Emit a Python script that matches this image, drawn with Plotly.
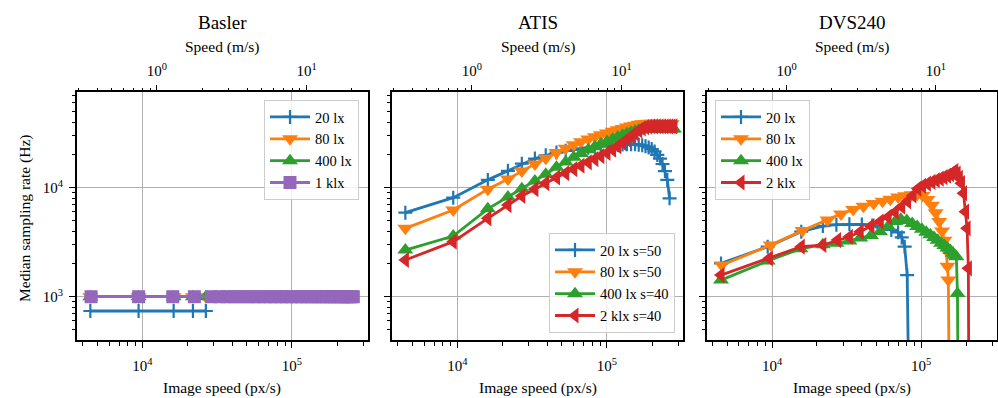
import plotly.graph_objects as go

# ---------------- Data ----------------
# Basler (image speed px/s, median sampling rate Hz)
BASLER_X_LOW = [4500, 9450, 16200, 21800, 26600]
BASLER_20LX = [740, 740, 740, 740, 740]
BASLER_80LX = [1000, 1000, 1000, 1000, 1000]
BASLER_400LX = [1000, 1000, 1000, 1000, 1000]
BASLER_X_1KLX = [4550, 9450, 16000, 22300, 29000, 33000, 37000, 41000, 45000, 50000,
                 55000, 60000, 66000, 72000, 78000, 85000, 92000, 100000, 108000, 116000,
                 125000, 134000, 143000, 152000, 162000, 172000, 182000, 192000, 202000, 212000,
                 222000, 232000, 242000, 250000, 257000]
BASLER_1KLX = [1000, 1000, 1000, 1000, 1000, 1000, 1000, 1000, 1000, 1000,
               1000, 1000, 1000, 1000, 1000, 1000, 1000, 1000, 1000, 1000,
               1000, 1000, 1000, 1000, 1000, 1000, 1000, 1000, 1000, 1000,
               1000, 1000, 1000, 1000, 1000]

# ATIS
ATIS_X = [4500, 9400, 16000, 21800, 27000, 33000, 39000, 46000, 53000, 60000,
          67000, 75000, 83000, 91000, 100000, 109000, 118000, 127000, 136000, 145000,
          154000, 163000, 172000, 181000, 190000, 199000, 208000, 217000, 226000, 235000,
          244000, 253000, 262000, 271000, 280000]
ATIS_20LX_S50 = [5900, 8100, 11800, 14300, 16600, 18500, 19800, 21000, 21800, 22400,
                 22900, 23300, 23700, 24000, 24200, 24500, 24700, 24900, 25000, 25000,
                 25000, 24800, 24500, 24000, 23400, 22600, 21500, 20000, 18500, 16500,
                 14200, 11800, 8000]
ATIS_80LX_S50 = [4240, 6240, 9700, 12000, 14200, 16500, 18600, 21000, 23000, 24800,
                 26400, 28000, 29400, 30600, 31800, 33000, 34000, 35000, 36000, 36800,
                 37500, 38200, 38600, 38800, 39000, 39000, 39000, 38900, 38900, 38800,
                 38800, 38700, 38700, 38600]
ATIS_400LX_S40 = [2680, 3600, 6400, 8200, 9800, 11500, 13300, 15400, 17200, 19000,
                  20600, 22300, 23800, 25200, 26600, 27900, 29100, 30300, 31400, 32300,
                  33100, 33800, 34300, 34500, 34600, 34500, 34600, 34500, 34600, 34500,
                  34600, 34500, 34600, 34500, 34600]
ATIS_2KLX_S40 = [2170, 3200, 5240, 6930, 8400, 9700, 11000, 12400, 13600, 14800,
                 15900, 17100, 18300, 19500, 20800, 22300, 24000, 25800, 27700, 29700,
                 31700, 33500, 35000, 36000, 36400, 36500, 36500, 36600, 36500, 36600,
                 36500, 36600, 36500, 36600, 36500]

# DVS240
DVS_20LX_X = [4550, 9350, 15700, 21900, 27000, 33000, 40000, 47000, 55000, 63000,
              70000, 74000, 77500, 80500, 82500]
DVS_20LX = [2020, 2880, 3950, 4450, 4580, 4620, 4600, 4500, 4300, 4100,
            3900, 3500, 2880, 1580, 150]
DVS_80LX_X = [4600, 9800, 16000, 23600, 29000, 35000, 41000, 48000, 55000, 62000,
              70000, 78000, 86000, 94000, 102000, 110000, 118000, 125000, 132000, 138000,
              143000, 147000, 150000, 152000, 154000]
DVS_80LX = [1950, 2980, 4040, 5060, 5750, 6300, 6750, 7150, 7500, 7850,
            8200, 8450, 8600, 8650, 8500, 7800, 6900, 5900, 4900, 4000,
            3300, 2680, 1900, 1420, 150]
DVS_400LX_X = [4550, 9350, 15500, 21900, 27000, 33000, 39000, 46000, 53000, 60000,
               67000, 73000, 80000, 87000, 94000, 101000, 108000, 115000, 122000, 129000,
               136000, 143000, 150000, 157000, 163000, 168000, 172000, 175000, 176500]
DVS_400LX = [1420, 2130, 2750, 3000, 3100, 3250, 3450, 3650, 3950, 4400,
             4900, 5150, 5000, 4700, 4400, 4150, 3900, 3700, 3500, 3300,
             3100, 2950, 2800, 2650, 2500, 2400, 2330, 1070, 150]
DVS_2KLX_X = [4550, 9600, 15700, 21900, 27500, 33000, 39000, 46000, 53000, 60000,
              67000, 74000, 81000, 88000, 95000, 102000, 110000, 118000, 126000, 134000,
              142000, 150000, 157000, 163000, 168000, 174000, 180000, 186000, 192000, 198000,
              203000, 207000, 208500]
DVS_2KLX = [1580, 2250, 2880, 2980, 3310, 3550, 3950, 4450, 4900, 5400,
            6000, 6700, 7500, 8500, 9800, 10400, 10900, 11300, 11700, 12100,
            12500, 12900, 13300, 13800, 14200, 13500, 12300, 11000, 8900, 6030,
            4240, 1820, 150]

PANEL_TITLES = ["Basler", "ATIS", "DVS240"]
PX_PER_MPS_LOG = 4.098  # log10(px/s per m/s)

# ---------------- Style ----------------
FONT = "Liberation Serif"
C_BLUE, C_ORANGE, C_GREEN, C_RED, C_PURPLE = "#1f77b4", "#ff7f0e", "#2ca02c", "#d62728", "#9467bd"
LW = 2.8
STYLE = {
    "20": dict(color=C_BLUE, symbol="cross-thin", size=10),
    "80": dict(color=C_ORANGE, symbol="triangle-down", size=14),
    "400": dict(color=C_GREEN, symbol="triangle-up", size=14),
    "1k": dict(color=C_PURPLE, symbol="square", size=13),
    "2k": dict(color=C_RED, symbol="triangle-left", size=14),
}

fig = go.Figure()


def add(x, y, key, name, xa, ya, legend):
    st = STYLE[key]
    marker = dict(symbol=st["symbol"], size=st["size"], color=st["color"])
    if st["symbol"] == "cross-thin":
        marker["line"] = dict(color=st["color"], width=2.2)
    else:
        marker["line"] = dict(width=0)
    fig.add_trace(go.Scatter(
        x=x, y=y, mode="lines+markers", name=name,
        line=dict(color=st["color"], width=LW),
        marker=marker, xaxis=xa, yaxis=ya, legend=legend,
    ))


add(BASLER_X_LOW, BASLER_20LX, "20", "20 lx", "x", "y", "legend")
add(BASLER_X_LOW, BASLER_80LX, "80", "80 lx", "x", "y", "legend")
add(BASLER_X_LOW, BASLER_400LX, "400", "400 lx", "x", "y", "legend")
add(BASLER_X_1KLX, BASLER_1KLX, "1k", "1 klx", "x", "y", "legend")

add(ATIS_X[:len(ATIS_20LX_S50)], ATIS_20LX_S50, "20", "20 lx s=50", "x2", "y2", "legend2")
add(ATIS_X[:len(ATIS_80LX_S50)], ATIS_80LX_S50, "80", "80 lx s=50", "x2", "y2", "legend2")
add(ATIS_X[:len(ATIS_400LX_S40)], ATIS_400LX_S40, "400", "400 lx s=40", "x2", "y2", "legend2")
add(ATIS_X[:len(ATIS_2KLX_S40)], ATIS_2KLX_S40, "2k", "2 klx s=40", "x2", "y2", "legend2")

add(DVS_20LX_X, DVS_20LX, "20", "20 lx", "x3", "y3", "legend3")
add(DVS_80LX_X, DVS_80LX, "80", "80 lx", "x3", "y3", "legend3")
add(DVS_400LX_X, DVS_400LX, "400", "400 lx", "x3", "y3", "legend3")
add(DVS_2KLX_X, DVS_2KLX, "2k", "2 klx", "x3", "y3", "legend3")

# empty helper traces so that the secondary (top, m/s) axes are rendered
for i in range(3):
    sfx = "" if i == 0 else str(i + 1)
    fig.add_trace(go.Scatter(x=[], y=[], xaxis="x" + str(i + 4), yaxis="y" + sfx,
                             showlegend=False, hoverinfo="skip", mode="lines"))

# ---------------- Axes ----------------
W, H = 998, 398
X_DOMAINS = [[77 / W, 368 / W], [392 / W, 683 / W], [707 / W, 997 / W]]
Y_DOMAIN = [1 - 340 / H, 1 - 92 / H]
X_RANGE = [3.564, 5.508]
Y_RANGE = [2.603, 4.878]

tickfont = dict(family=FONT, size=15, color="black")
x_minor = [v * 10 ** e for e in (3, 4, 5) for v in range(2, 10)]
y_minor = [v * 10 ** e for e in (2, 3, 4) for v in range(2, 10)]
top_minor = [v * 10.0 ** e for e in (-1, 0, 1) for v in range(2, 10)]

layout = dict(
    width=W, height=H, margin=dict(l=0, r=0, t=0, b=0),
    paper_bgcolor="white", plot_bgcolor="white",
    font=dict(family=FONT, size=15, color="black"),
    showlegend=True,
)

for i in range(3):
    sfx = "" if i == 0 else str(i + 1)
    layout["xaxis" + sfx] = dict(
        type="log", domain=X_DOMAINS[i], range=X_RANGE, anchor="y" + sfx,
        tickvals=[1e4, 1e5], ticktext=["10<sup>4</sup>", "10<sup>5</sup>"],
        ticks="outside", ticklen=6, tickwidth=1.1, tickcolor="black",
        minor=dict(tickvals=x_minor, ticks="outside", ticklen=3.5, tickwidth=0.9,
                   tickcolor="black", showgrid=False),
        showgrid=True, gridcolor="#b0b0b0", gridwidth=1.1,
        showline=True, mirror=True, linecolor="black", linewidth=2,
        zeroline=False, tickfont=tickfont, automargin=False, ticklabelstandoff=5,
    )
    layout["yaxis" + sfx] = dict(
        type="log", domain=Y_DOMAIN, range=Y_RANGE, anchor="x" + sfx,
        tickvals=[1e3, 1e4], ticktext=["10<sup>3</sup>", "10<sup>4</sup>"],
        showticklabels=(i == 0),
        ticks="outside", ticklen=6, tickwidth=1.1, tickcolor="black",
        minor=dict(tickvals=y_minor, ticks="outside", ticklen=3.5, tickwidth=0.9,
                   tickcolor="black", showgrid=False),
        showgrid=True, gridcolor="#b0b0b0", gridwidth=1.1,
        showline=True, mirror=True, linecolor="black", linewidth=2,
        zeroline=False, tickfont=tickfont, automargin=False, ticklabelstandoff=3,
    )
    top = "xaxis" + str(i + 4)
    layout[top] = dict(
        type="log", overlaying="x" + sfx, anchor="y" + sfx, side="top",
        range=[X_RANGE[0] - PX_PER_MPS_LOG, X_RANGE[1] - PX_PER_MPS_LOG],
        tickvals=[1, 10], ticktext=["10<sup>0</sup>", "10<sup>1</sup>"],
        ticks="outside", ticklen=6, tickwidth=1.1, tickcolor="black",
        minor=dict(tickvals=top_minor, ticks="outside", ticklen=3.5, tickwidth=0.9,
                   tickcolor="black", showgrid=False),
        showgrid=False, showline=False, zeroline=False,
        tickfont=tickfont, automargin=False, ticklabelstandoff=3,
    )

legend_common = dict(
    font=dict(family=FONT, size=14.5, color="black"),
    bgcolor="rgba(255,255,255,0.8)", bordercolor="#cccccc", borderwidth=1,
    itemwidth=40,
)
layout["legend"] = dict(x=359 / W, xanchor="right", y=1 - 100 / H, yanchor="top", **legend_common)
layout["legend2"] = dict(x=675 / W, xanchor="right", y=1 - 333 / H, yanchor="bottom", **legend_common)
layout["legend3"] = dict(x=715 / W, xanchor="left", y=1 - 100 / H, yanchor="top", **legend_common)

annotations = []
for i, t in enumerate(PANEL_TITLES):
    cx = (X_DOMAINS[i][0] + X_DOMAINS[i][1]) / 2
    annotations.append(dict(text=t, x=cx, y=1 - 23 / H, xref="paper", yref="paper",
                            showarrow=False, xanchor="center", yanchor="middle",
                            font=dict(family=FONT, size=19, color="black")))
    annotations.append(dict(text="Speed (m/s)", x=cx, y=1 - 47 / H, xref="paper", yref="paper",
                            showarrow=False, xanchor="center", yanchor="middle",
                            font=dict(family=FONT, size=15.5, color="black")))
    annotations.append(dict(text="Image speed (px/s)", x=cx, y=1 - 388 / H, xref="paper", yref="paper",
                            showarrow=False, xanchor="center", yanchor="middle",
                            font=dict(family=FONT, size=15.5, color="black")))
annotations.append(dict(text="Median sampling rate (Hz)", x=25 / W, y=1 - 219 / H,
                        xref="paper", yref="paper", showarrow=False, textangle=-90,
                        xanchor="center", yanchor="middle",
                        font=dict(family=FONT, size=15.5, color="black")))
layout["annotations"] = annotations

fig.update_layout(**layout)
fig.write_html("out.html")
